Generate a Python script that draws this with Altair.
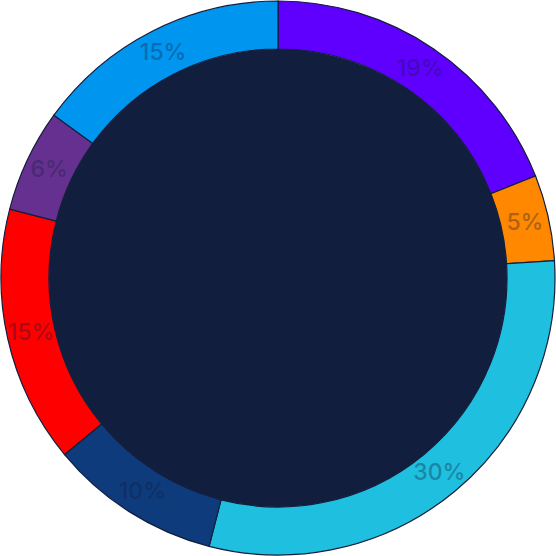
import altair as alt
import pandas as pd
import math

labels = ["19%", "5%", "30%", "10%", "15%", "6%", "15%"]
values = [19, 5, 30, 10, 15, 6, 15]
colors = ["#5f00ff", "#ff8800", "#1fbfe0", "#0e3b7c", "#ff0000", "#663090", "#0096f0"]
center_color = "#121e3d"

df = pd.DataFrame({
    "idx": list(range(len(values))),
    "label": labels,
    "value": values,
})

color_scale = alt.Scale(domain=list(range(len(values))), range=colors)

base = alt.Chart(df).encode(
    theta=alt.Theta("value:Q", stack=True),
    order=alt.Order("idx:Q"),
)

ring = base.mark_arc(outerRadius=277, innerRadius=229, stroke=center_color, strokeWidth=1.2).encode(
    color=alt.Color("idx:N", scale=color_scale, legend=None)
)

text = base.mark_text(radius=253, font="Inter", fontSize=23, fontWeight=500,
                      fill=center_color, opacity=0.35).encode(
    text="label:N"
)

center = alt.Chart(pd.DataFrame({"v": [1]})).mark_arc(
    outerRadius=229, innerRadius=0, color=center_color
).encode(theta=alt.value(0), theta2=alt.value(2 * math.pi))

chart = alt.layer(ring, center, text).properties(
    width=556, height=556,
    autosize=alt.AutoSizeParams(type="fit", contains="padding"),
    padding=0,
).configure_view(stroke=None)

chart.save("out.html", embed_options={"renderer": "svg", "actions": False})
